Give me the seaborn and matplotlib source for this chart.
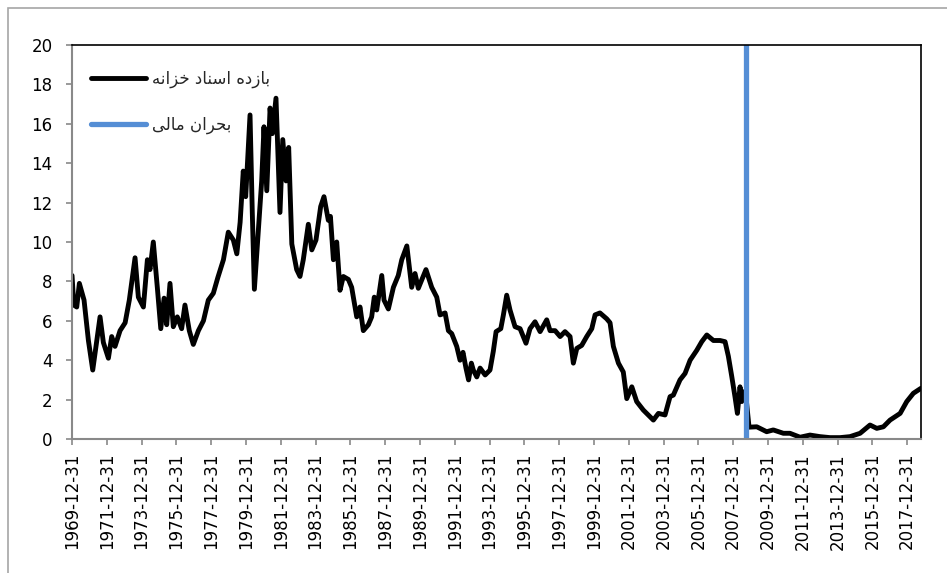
"""Treasury bill yield with the 2008 financial crisis marked"""

import pandas as pd
import numpy as np
import matplotlib.pyplot as plt
import seaborn as sns
from matplotlib.lines import Line2D
from matplotlib.patches import Rectangle

# decimal years
years = [
    1970.00, 1970.10, 1970.27, 1970.42, 1970.69, 1970.94, 1971.19, 1971.42, 1971.61, 1971.80,
    1972.09, 1972.28, 1972.47, 1972.76, 1973.05, 1973.29, 1973.62, 1973.81, 1974.10, 1974.33,
    1974.48, 1974.67, 1974.90, 1975.10, 1975.29, 1975.44, 1975.63, 1975.82, 1976.05, 1976.30,
    1976.49, 1976.74, 1976.97, 1977.26, 1977.55, 1977.83, 1978.12, 1978.38, 1978.70, 1978.98,
    1979.27, 1979.47, 1979.66, 1979.84, 1979.98, 1980.23, 1980.36, 1980.48, 1980.71, 1980.90,
    1981.03, 1981.19, 1981.38, 1981.51, 1981.72, 1981.95, 1982.11, 1982.30, 1982.45, 1982.63,
    1982.91, 1983.10, 1983.29, 1983.58, 1983.78, 1984.02, 1984.29, 1984.48, 1984.73, 1984.85,
    1985.02, 1985.21, 1985.40, 1985.59, 1985.88, 1986.07, 1986.36, 1986.55, 1986.74, 1987.03,
    1987.22, 1987.37, 1987.51, 1987.80, 1987.93, 1988.18, 1988.47, 1988.75, 1988.95, 1989.24,
    1989.52, 1989.71, 1989.90, 1990.34, 1990.67, 1990.96, 1991.15, 1991.44, 1991.63, 1991.82,
    1992.11, 1992.30, 1992.47, 1992.64, 1992.79, 1992.95, 1993.06, 1993.26, 1993.45, 1993.74,
    1994.02, 1994.21, 1994.37, 1994.64, 1994.79, 1994.98, 1995.17, 1995.46, 1995.75, 1996.09,
    1996.32, 1996.61, 1996.90, 1997.28, 1997.47, 1997.76, 1998.05, 1998.33, 1998.62, 1998.81,
    1999.01, 1999.29, 1999.58, 1999.87, 2000.06, 2000.34, 2000.73, 2000.92, 2001.11, 2001.40,
    2001.68, 2001.88, 2002.17, 2002.45, 2002.83, 2003.41, 2003.70, 2004.08, 2004.37, 2004.56,
    2004.94, 2005.23, 2005.52, 2005.90, 2006.19, 2006.48, 2006.86, 2007.24, 2007.53, 2007.72,
    2007.91, 2008.10, 2008.24, 2008.39, 2008.49, 2008.62, 2008.76, 2008.91, 2009.35, 2009.92,
    2010.30, 2010.88, 2011.26, 2011.84, 2012.41, 2012.99, 2013.56, 2014.14, 2014.71, 2015.29,
    2015.86, 2016.25, 2016.63, 2017.01, 2017.59, 2017.97, 2018.35, 2018.78,
]
tbill_yield = [
    8.3, 6.8, 6.7, 7.9, 7.05, 5.0, 3.5, 5.0, 6.2, 4.9,
    4.1, 5.2, 4.7, 5.5, 5.9, 7.05, 9.2, 7.2, 6.7, 9.1,
    8.6, 10.0, 7.7, 5.6, 7.15, 5.8, 7.9, 5.7, 6.2, 5.6,
    6.8, 5.5, 4.8, 5.5, 6.0, 7.05, 7.4, 8.2, 9.1, 10.5,
    10.1, 9.4, 11.0, 13.6, 12.3, 16.45, 11.5, 7.6, 10.6, 13.1,
    15.85, 12.6, 16.8, 15.5, 17.3, 11.5, 15.2, 13.1, 14.8, 9.9,
    8.6, 8.25, 9.1, 10.9, 9.6, 10.1, 11.8, 12.3, 11.1, 11.3,
    9.1, 10.0, 7.55, 8.25, 8.1, 7.7, 6.2, 6.7, 5.5, 5.8,
    6.2, 7.2, 6.55, 8.3, 7.05, 6.6, 7.7, 8.3, 9.1, 9.8,
    7.7, 8.4, 7.65, 8.6, 7.7, 7.2, 6.3, 6.4, 5.5, 5.35,
    4.7, 4.0, 4.4, 3.6, 3.0, 3.85, 3.5, 3.15, 3.6, 3.25,
    3.5, 4.45, 5.45, 5.6, 6.3, 7.3, 6.55, 5.7, 5.6, 4.86,
    5.6, 5.95, 5.45, 6.05, 5.5, 5.5, 5.2, 5.45, 5.2, 3.85,
    4.6, 4.75, 5.2, 5.6, 6.3, 6.4, 6.1, 5.9, 4.7, 3.85,
    3.4, 2.05, 2.65, 1.9, 1.47, 0.96, 1.3, 1.22, 2.15, 2.23,
    3.0, 3.33, 4.0, 4.5, 4.94, 5.28, 5.0, 5.0, 4.94, 4.2,
    3.2, 2.15, 1.3, 2.65, 1.9, 2.4, 1.9, 0.6, 0.62, 0.37,
    0.46, 0.29, 0.29, 0.09, 0.2, 0.12, 0.07, 0.07, 0.12, 0.29,
    0.71, 0.54, 0.62, 0.96, 1.3, 1.9, 2.32, 2.57,
]
tick_labels = [f"{y}-12-31" for y in range(1969, 2018, 2)]
crisis_date = "2008-09-15"

# Persian labels in presentation forms, visual (left-to-right) order
label_yield = "\ufeea\ufee7\ufe8d\ufeb0\ufea7 \ufea9\ufe8e\ufee8\ufeb3\ufe8d \ufee9\ufea9\ufeaf\ufe8e\ufe91"
label_crisis = "\ufbfd\ufedf\ufe8e\ufee3 \ufee5\ufe8d\ufeae\ufea4\ufe91"


def to_date(y):
    base = pd.Timestamp(int(y), 1, 1)
    return base + pd.Timedelta(days=(y - int(y)) * 365.25)


df = pd.DataFrame({'date': [to_date(y) for y in years], 'yield': tbill_yield})

sns.set_theme(style="white")
plt.rcParams['font.family'] = ['DejaVu Sans']

fig = plt.figure(figsize=(9.47, 5.73), dpi=100)
ax = fig.add_axes([72 / 947, 1 - 439 / 573, 849 / 947, 394 / 573])

sns.lineplot(data=df, x='date', y='yield', ax=ax, color='black', linewidth=3.5)
ax.axvline(pd.Timestamp(crisis_date), color='#558ED5', linewidth=3.8)

ax.set_xlim(pd.Timestamp('1969-12-31'), to_date(2018.79))
ax.set_ylim(0, 20)
ax.set_yticks(np.arange(0, 21, 2))
ax.set_xticks(pd.to_datetime(tick_labels))
ax.set_xticklabels(tick_labels, rotation=90)
ax.set_xlabel('')
ax.set_ylabel('')
ax.tick_params(axis='both', which='major', labelsize=12, colors='#898989',
               length=4, width=1.2, direction='out', labelcolor='black')
ax.tick_params(axis='x', pad=6, bottom=True)
ax.tick_params(axis='y', pad=10, left=True)

for side in ['left', 'bottom']:
    ax.spines[side].set_color('#898989')
    ax.spines[side].set_linewidth(1.5)
for side in ['top', 'right']:
    ax.spines[side].set_color('black')
    ax.spines[side].set_linewidth(1.2)

handles = [Line2D([], [], color='black', linewidth=3.5, solid_capstyle='round'),
           Line2D([], [], color='#558ED5', linewidth=3.8, solid_capstyle='round')]
ax.legend(handles, [label_yield, label_crisis], loc='upper left',
          bbox_to_anchor=(0.005, 0.975), frameon=False, fontsize=12,
          handlelength=3.3, handletextpad=0.35, labelspacing=1.65)

# outer chart border
fig.patches.append(Rectangle((8 / 947, -0.01), 1.0, 1 - 8 / 573 + 0.01,
                             transform=fig.transFigure, fill=False,
                             edgecolor='#A6A6A6', linewidth=1.2))

fig.savefig('out.png', dpi=100)
